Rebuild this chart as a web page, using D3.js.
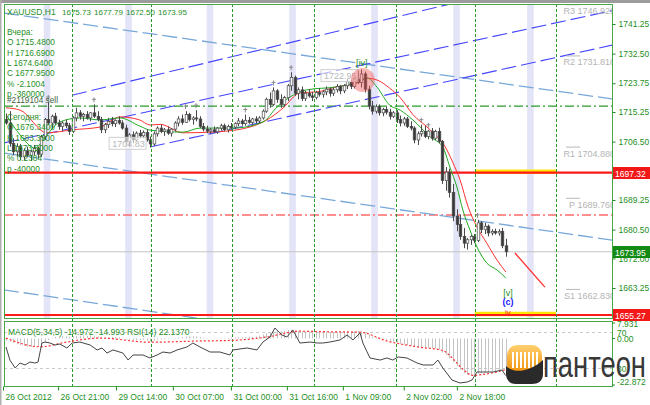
<!DOCTYPE html>
<html><head><meta charset="utf-8">
<script src="https://cdn.jsdelivr.net/npm/d3@7"></script>
<style>body{margin:0;background:#fff}svg{display:block;font-family:"Liberation Sans",Arial,sans-serif}</style>
</head><body><svg id="c" width="650" height="405"></svg>
<script>
// ---------- DATA ----------
const headerSymbol = "XAUUSD,H1";
const headerOHLC = ["1675.73","1677.79","1672.50","1673.95"];
const yesterdayLines = ["Вчера:","O 1715.4800","H 1716.6900","L 1674.6400","C 1677.9500","% -2.1004","p -360000"];
const todayLines = ["Сегодня:","O 1676.3400","H 1683.3500","L 1673.5000","% 0.2384","p -40000"];
const orderLabel = "#2119104 sell";
const orderPrice = 1717.0;

// candles [open, high, low, close], H1 bars
const candles = [
[1713.0,1714.8,1711.5,1712.0],[1712.0,1715.5,1705.0,1706.0],[1706.0,1707.5,1702.5,1703.5],[1703.5,1706.0,1702.0,1705.0],
[1705.0,1705.8,1701.0,1702.0],[1702.0,1704.5,1701.0,1703.8],[1703.8,1705.0,1702.0,1702.5],[1702.5,1704.0,1700.8,1703.5],
[1703.5,1705.5,1702.5,1704.5],[1704.5,1705.0,1701.5,1702.8],[1702.8,1708.5,1702.0,1708.0],[1708.0,1713.5,1707.0,1713.0],
[1713.0,1718.2,1711.5,1712.0],[1712.0,1714.5,1710.5,1714.0],[1714.0,1715.0,1711.5,1712.0],[1712.0,1713.0,1710.0,1711.0],
[1711.0,1712.5,1709.5,1712.0],[1712.0,1713.0,1710.5,1711.2],[1711.2,1712.0,1708.5,1709.5],[1709.5,1714.0,1709.0,1713.5],
[1713.5,1716.5,1712.5,1715.0],[1715.0,1715.8,1713.0,1714.0],[1714.0,1715.0,1712.5,1714.5],[1714.5,1715.5,1713.0,1713.5],
[1713.5,1715.2,1712.5,1715.0],[1715.0,1717.5,1713.5,1714.0],[1714.0,1715.5,1712.5,1713.0],[1713.0,1713.8,1709.0,1710.0],
[1710.0,1712.0,1709.0,1711.5],[1711.5,1713.5,1710.5,1712.5],[1712.5,1713.8,1711.0,1711.8],[1711.8,1713.0,1710.8,1712.8],
[1712.8,1714.0,1711.5,1712.0],[1712.0,1712.8,1710.0,1710.5],[1710.5,1711.5,1705.5,1706.5],[1706.5,1709.0,1705.0,1708.5],
[1708.5,1709.5,1706.0,1707.0],[1707.0,1709.5,1706.5,1709.0],[1709.0,1710.0,1707.5,1708.2],[1708.2,1709.8,1707.5,1709.2],
[1709.2,1710.2,1706.5,1707.0],[1707.0,1708.0,1704.8,1705.8],[1705.8,1709.5,1705.2,1708.8],[1708.8,1711.0,1708.0,1710.5],
[1710.5,1711.5,1709.0,1709.5],[1709.5,1710.5,1708.2,1710.0],[1710.0,1711.0,1708.5,1709.0],[1709.0,1710.5,1708.0,1710.2],
[1710.2,1712.5,1709.5,1712.0],[1712.0,1714.0,1711.0,1713.2],[1713.2,1714.5,1711.5,1712.2],[1712.2,1715.5,1712.0,1714.5],
[1714.5,1715.0,1712.5,1713.0],[1713.0,1714.0,1711.5,1713.5],[1713.5,1715.8,1712.5,1713.2],[1713.2,1714.0,1710.5,1711.0],
[1711.0,1712.0,1709.5,1710.2],[1710.2,1711.2,1709.0,1709.6],[1709.6,1710.5,1708.8,1710.0],[1710.0,1711.0,1709.0,1709.4],
[1709.4,1710.8,1708.8,1710.5],[1710.5,1711.8,1709.8,1711.2],[1711.2,1711.8,1709.6,1710.0],[1710.0,1711.5,1709.2,1711.0],
[1711.0,1712.0,1710.0,1710.8],[1710.8,1712.2,1710.2,1711.8],[1711.8,1713.5,1711.0,1712.6],[1712.6,1713.2,1711.2,1711.8],
[1711.8,1714.5,1711.2,1712.8],[1712.8,1713.8,1711.8,1712.2],[1712.2,1713.5,1711.5,1713.2],[1713.2,1714.0,1712.0,1712.6],
[1712.6,1714.0,1712.0,1713.5],[1713.5,1716.0,1713.0,1715.5],[1715.5,1719.5,1715.0,1719.0],[1719.0,1721.0,1716.5,1717.5],
[1717.5,1722.5,1717.0,1721.5],[1721.5,1722.0,1718.0,1719.0],[1719.0,1720.5,1716.5,1717.5],[1717.5,1720.0,1716.8,1719.5],
[1719.5,1723.5,1718.5,1723.0],[1723.0,1727.0,1721.5,1725.5],[1725.5,1726.0,1720.0,1720.8],[1720.8,1722.5,1719.0,1721.8],
[1721.8,1722.8,1718.5,1719.2],[1719.2,1721.5,1718.5,1720.8],[1720.8,1722.0,1719.5,1720.0],[1720.0,1721.2,1718.5,1719.5],
[1719.5,1721.5,1719.0,1721.0],[1721.0,1722.2,1719.8,1720.5],[1720.5,1721.8,1719.5,1721.2],[1721.2,1722.8,1720.2,1722.0],
[1722.0,1722.5,1719.8,1720.8],[1720.8,1722.5,1720.0,1721.8],[1721.8,1723.5,1721.0,1722.8],[1722.8,1723.2,1720.5,1721.5],
[1721.5,1723.5,1720.8,1723.0],[1723.0,1725.0,1722.0,1724.2],[1724.2,1724.8,1722.0,1722.8],[1722.8,1725.5,1722.2,1725.0],
[1725.0,1727.5,1723.5,1724.0],[1724.0,1727.8,1722.5,1726.5],[1726.5,1727.2,1721.0,1722.0],[1722.0,1723.0,1716.0,1717.0],
[1717.0,1718.5,1714.5,1715.5],[1715.5,1717.5,1714.8,1716.8],[1716.8,1717.5,1714.2,1715.0],[1715.0,1716.5,1714.0,1716.0],
[1716.0,1716.8,1714.5,1715.2],[1715.2,1716.2,1713.0,1714.0],[1714.0,1715.5,1713.5,1715.0],[1715.0,1715.8,1712.0,1713.0],
[1713.0,1714.2,1711.0,1712.0],[1712.0,1713.8,1711.2,1713.2],[1713.2,1713.8,1710.5,1711.0],[1711.0,1712.5,1709.8,1710.5],
[1710.5,1711.0,1706.0,1707.0],[1707.0,1709.5,1705.5,1708.8],[1708.8,1711.5,1708.0,1709.5],[1709.5,1711.2,1707.5,1708.0],
[1708.0,1710.0,1707.2,1709.6],[1709.6,1710.5,1706.8,1707.5],[1707.5,1710.0,1707.0,1709.5],[1709.5,1710.6,1706.0,1706.5],
[1706.5,1707.0,1694.0,1695.0],[1695.0,1699.0,1692.0,1697.5],[1697.5,1698.5,1690.0,1691.5],[1691.5,1694.0,1683.0,1684.5],
[1684.5,1686.5,1680.0,1682.0],[1682.0,1685.0,1677.5,1678.5],[1678.5,1681.0,1675.0,1676.5],[1676.5,1678.0,1674.6,1677.5],
[1677.5,1679.0,1676.0,1678.5],[1678.5,1679.2,1676.5,1677.3],[1677.3,1683.4,1676.8,1682.5],[1682.5,1683.0,1679.5,1680.5],
[1680.5,1682.5,1679.2,1681.5],[1681.5,1682.0,1678.5,1679.5],[1679.5,1680.6,1678.8,1680.0],[1680.0,1680.8,1679.0,1679.5],
[1679.5,1680.6,1678.7,1680.0],[1680.0,1681.0,1675.0,1675.73],[1675.73,1677.79,1672.50,1673.95]
];
const fractalBars = [12,25,51,54,68,76,81,118,120,134];

// moving averages (bar index, price)
const maRedIdx = [0,4,11.6,19,26.7,32.4,38,40.9,43.8,50.3,60,69.3,74.1,78.7,83.5,88.4,94,99.7,102.6,105.4,109,112,115.6,120.5,125.3,127,129,131.3,133.8,136.6,139.5,142];
const maRed    = [1716.5,1715.8,1709.1,1710.0,1710.8,1713.8,1712.9,1711.4,1711.6,1709.1,1709.4,1710.8,1712.9,1716.4,1720.9,1721.2,1722.7,1723.8,1725.2,1724.7,1722.3,1719.5,1714.5,1710.0,1704.0,1700.2,1695.2,1687.2,1681.3,1676.5,1671.5,1668.0];
const maGreenIdx = [0,4,8.2,11.6,15.3,21,26.7,32.4,38,40.9,50.3,55.1,64.5,73,77,80.7,85.5,94,99.7,102.6,105.4,109,112,115.6,120.5,124.1,126.1,128.1,129.8,131.8,133.8,136.6,139.5,142];
const maGreen    = [1714.4,1708.5,1704.6,1708.5,1712.3,1713.5,1712.9,1713.5,1711.1,1709.9,1709.3,1710.5,1710.5,1712.3,1716.7,1719.7,1721.8,1722.7,1724.1,1725.3,1722.6,1717.3,1715.8,1712.9,1707.9,1704.9,1699.0,1693.1,1686.3,1680.4,1675.4,1670.6,1668.6,1666.2];

// axes
const priceTicks = [1741.25,1732.50,1723.75,1715.25,1706.50,1689.25,1680.50,1672.00,1663.25];
const timeLabels = ["26 Oct 2012","26 Oct 21:00","29 Oct 14:00","30 Oct 07:00","31 Oct 00:00","31 Oct 16:00","1 Nov 09:00","2 Nov 02:00","2 Nov 18:00"];
const timeIdx = [-0.85,14.8,31.25,47.4,63.9,79.8,95.7,113,128.1];
const gridIdx = [18.75,41.2,64.2,87.5,110.8,133.2,156.25];
const sessionIdx = [11.65,34.8,57.95,81.4,104.7,128,149];

// horizontal levels
const redLevels = [1697.32,1655.27];
const redLevelLabels = ["1697.32","1655.27"];
const bidPrice = 1673.95;
const redDashLevel = 1684.8;
const pivotNames = ["R3 1746.929","R2 1731.810","R1 1704.880","P 1689.760","S1 1662.830"];
const pivotLevels = [1746.929,1731.810,1704.880,1689.760,1662.830];

// channels: [idx0, price0, idx1, price1]
const blueChannels = [[-0.6,1706.1,172.2,1745.2],[18.75,1720.2,140.3,1750.7],[40.9,1704.9,172.2,1735.0]];
const lightChannels = [[-0.6,1744.5,172.2,1719.1],[-0.6,1703.1,172.2,1677.4],[-0.6,1662.7,172.2,1636.4]];
const projection = [144.6,1673.6,153.1,1663.5];

// wave marks
const waveMarks = [
  {t:"[iv]", i:101.1, p:1729.7, c:"#1f8f1f", fs:9},
  {t:"[v]", i:142.6, p:1661.9, c:"#1f8f1f", fs:9},
  {t:"(c)", i:142.6, p:1659.0, c:"#2020ff", fs:9},
  {t:"iv", i:142.6, p:1656.1, c:"#ff2020", fs:8}
];
const peakCircle = {i:101.4, p:1724.7};
const priceTags = [{t:"1704.83", i:29.3, p:1706.0},{t:"1722.95", i:89.5, p:1726.0}];

// indicator window
const macdTitle = "MACD(5,34,5) -14.972 -14.993  RSI(14) 22.1370";
const macdHist = [-1.0,-1.5,-2.2,-2.8,-3.2,-3.6,-3.9,-4.1,-4.2,-4.0,-3.2,-2.0,-0.8,0.2,
0.8,1.0,1.1,1.0,0.9,1.1,1.3,1.4,1.4,1.3,1.4,1.3,1.0,0.7,0.6,0.6,0.7,
0.7,0.6,0.3,-0.5,-0.8,-0.9,-0.8,-0.7,-0.8,-1.0,-1.3,-1.0,-0.6,-0.5,-0.4,-0.3,-0.1,
0.2,0.5,0.7,0.9,1.0,1.1,1.0,0.7,0.4,0.2,0.0,-0.1,0.0,0.1,0.2,0.3,0.4,0.5,0.6,0.6,0.7,0.8,0.8,
1.0,1.4,2.0,2.6,3.0,3.4,3.5,3.4,3.6,4.0,4.2,3.8,3.6,3.5,3.4,3.3,3.2,3.3,3.3,3.2,3.3,3.2,3.1,3.2,3.3,3.2,3.4,3.4,3.5,3.7,3.5,2.6,
1.8,1.0,0.6,0.2,-0.2,-0.6,-1.1,-1.6,-2.1,-2.6,-3.0,-3.3,-3.6,-4.2,-4.4,-4.4,-4.6,-4.5,-4.7,-4.8,-5.3,
-6.8,-8.0,-9.6,-11.5,-13.4,-15.2,-16.8,-17.5,-17.8,-17.9,-17.0,-16.6,-16.3,-16.1,-15.8,-15.6,-15.4,-15.2,-14.97];
const sigIdx = [0,9.7,17.3,26.7,40.9,55.1,64.5,74.1,83.5,89.2,100.6,108.2,117.6,124.1,127,129.8,132.7,135.5,139.5,142];
const sigVal = [0.2,-4.0,-1.7,0.2,-1.8,-1.2,-0.9,0.7,3.5,3.3,3.0,-1.2,-4.2,-5.8,-9.8,-14.8,-17.8,-17.3,-16.1,-14.99];
const rsiIdx = [0,1.1,2.6,4,5.4,6.8,8.2,9.1,10.2,11.1,12.5,13.9,15.3,17.3,18.8,21,23.9,25.9,27.3,28.7,30.4,33.2,34.7,36.1,38.9,40.9,42.9,44.6,46.6,48.6,51.4,53.1,55.1,58,60.8,63.6,64.5,68.5,71.3,73,75,76.4,78.4,79.8,81.5,83.5,86.4,88.4,90,92,94.9,96.9,98.6,100.6,101.4,103.4,106.3,108.2,109.9,111.4,113.9,116.8,118.5,121.3,122.7,124.1,126.7,129,131,132.4,133.8,135.5,138.4,140.9,142];
const rsiVal = [53.9,39.4,30.6,36.1,33.9,37.2,36.1,37.2,58.3,59.4,58.3,56.1,57.2,52.8,58.3,59.4,56.1,50.6,52.8,47.2,50.6,47.2,39.4,45,45,41.7,45,48.3,47.2,50.6,53.9,58.3,53.9,48.3,48.3,45,50.6,52.8,50.6,59.4,65,75,67.2,65,72.8,58.3,59.4,58.3,58.3,59.4,61.7,67.2,61.7,69.4,58.3,41.7,39.4,41.7,39.4,42.8,41.7,36.1,33.9,33.9,39.4,30.6,17.2,13.9,15,17.2,26.1,26.1,26.1,28.3,22.14];
const macdMax = 7.931, macdMin = -22.872;
const rsiLevels = [70,30];

// ---------- DRAW ----------
const svg = d3.select("#c");
const GREEN = "#1f8f1f", FRAME = "#45a845";
const M = {l:4, r:612, t:4, b:318};
const S = {t:321, b:386};

const x = d3.scaleLinear().domain([0,142]).range([6,505.8]);
const y = d3.scaleLinear().domain([1741.25,1663.25]).range([24,288]);
const ym = d3.scaleLinear().domain([macdMax,macdMin]).range([S.t+1,S.b]);
const yr = d3.scaleLinear().domain([70,30]).range([332.5,368.5]);

svg.append("rect").attr("width",650).attr("height",405).attr("fill","#fff");
svg.append("rect").attr("width",650).attr("height",3).attr("fill","#9c9c9c");
svg.append("rect").attr("width",1.5).attr("height",405).attr("fill","#b0b0b0");

const defs = svg.append("defs");
defs.append("clipPath").attr("id","cm").append("rect").attr("x",M.l).attr("y",M.t).attr("width",M.r-M.l).attr("height",M.b-M.t);
defs.append("clipPath").attr("id","cs").append("rect").attr("x",M.l).attr("y",S.t).attr("width",M.r-M.l).attr("height",S.b-S.t);

const main = svg.append("g").attr("clip-path","url(#cm)");

// session bands
main.selectAll(".band").data(sessionIdx).join("rect")
  .attr("x",d=>x(d)-3.3).attr("y",M.t).attr("width",6.6).attr("height",M.b-M.t)
  .attr("fill","#e4e4f8");

// grid verticals (both windows)
svg.append("g").selectAll("line").data(gridIdx).join("line")
  .attr("x1",d=>Math.round(x(d))+0.5).attr("x2",d=>Math.round(x(d))+0.5)
  .attr("y1",M.t).attr("y2",S.b)
  .attr("stroke","#2a9a2a").attr("stroke-width",1).attr("stroke-dasharray","3,2");

// horizontal levels
const hline = (p,col,w,dash)=>main.append("line").attr("x1",M.l).attr("x2",M.r)
  .attr("y1",y(p)).attr("y2",y(p)).attr("stroke",col).attr("stroke-width",w).attr("stroke-dasharray",dash||null);
hline(bidPrice,"#c4c4c4",1);
hline(redDashLevel,"#ff6a6a",1.6,"9,3,2,3");
hline(orderPrice,"#2a9a2a",1.2,"9,3,2,3");

// channels
const seg = (c)=>[[x(c[0]),y(c[1])],[x(c[2]),y(c[3])]];
main.selectAll(".lc").data(lightChannels).join("path")
  .attr("d",d=>d3.line()(seg(d))).attr("stroke","#78a8da").attr("stroke-width",1.3)
  .attr("fill","none").attr("stroke-dasharray","15,5");
main.selectAll(".bc").data(blueChannels).join("path")
  .attr("d",d=>d3.line()(seg(d))).attr("stroke","#4646ff").attr("stroke-width",1.15)
  .attr("fill","none").attr("stroke-dasharray","15,5");

// yellow + red solid levels
redLevels.forEach(p=>{
  main.append("line").attr("x1",x(gridIdx[5])).attr("x2",x(gridIdx[6]))
    .attr("y1",y(p)-1).attr("y2",y(p)-1).attr("stroke","#ffe600").attr("stroke-width",4.5);
  hline(p,"#ff1a1a",2.2);
});

// pivot labels
pivotLevels.forEach((p,k)=>{
  main.append("line").attr("x1",566).attr("x2",580).attr("y1",y(p)).attr("y2",y(p))
    .attr("stroke","#b8b8b8").attr("stroke-width",1);
  main.append("text").attr("x",615).attr("y",y(p)+9.5).attr("text-anchor","end")
    .attr("font-size",9).attr("fill","#b4b4b4").text(pivotNames[k]);
});

// moving averages
const maLine = (idx,val)=>d3.line().curve(d3.curveMonotoneX)(idx.map((d,k)=>[x(d),y(val[k])]));
main.append("path").attr("d",maLine(maRedIdx,maRed)).attr("stroke","#ff3030").attr("stroke-width",1).attr("fill","none");
main.append("path").attr("d",maLine(maGreenIdx,maGreen)).attr("stroke","#1faa1f").attr("stroke-width",1).attr("fill","none");

// candles
const cg = main.append("g");
candles.forEach((c,i)=>{
  const cx = Math.round(x(i))+0.5;
  cg.append("line").attr("x1",cx).attr("x2",cx).attr("y1",y(c[1])).attr("y2",y(c[2]))
    .attr("stroke","#4a4a4a").attr("stroke-width",1);
  const top = y(Math.max(c[0],c[3])), bot = y(Math.min(c[0],c[3]));
  cg.append("rect").attr("x",cx-1.3).attr("y",top).attr("width",2.6).attr("height",Math.max(1,bot-top))
    .attr("fill",c[3]>=c[0]?"#ffffff":"#383838").attr("stroke","#4a4a4a").attr("stroke-width",0.7);
});

// fractal markers
fractalBars.forEach(i=>{
  const cx = x(i), cy = y(candles[i][1])-4;
  main.append("path").attr("d",`M${cx},${cy+2}V${cy-3}M${cx-2},${cy-1}H${cx+2}`)
    .attr("stroke","#8a8a8a").attr("stroke-width",1).attr("fill","none");
});

// price tags
priceTags.forEach(t=>{
  const g = main.append("g");
  g.append("rect").attr("x",x(t.i)).attr("y",y(t.p)-6).attr("width",37).attr("height",12)
    .attr("fill","#fff").attr("fill-opacity",0.6).attr("stroke","#cfcfcf");
  g.append("text").attr("x",x(t.i)+3).attr("y",y(t.p)+3.5).attr("font-size",9).attr("fill","#b8b8b8").text(t.t);
});

// peak circle
main.append("circle").attr("cx",x(peakCircle.i)).attr("cy",y(peakCircle.p)).attr("r",12)
  .attr("fill","#f05050").attr("fill-opacity",0.42);

// projection
main.append("path").attr("d",d3.line()(seg(projection))).attr("stroke","#ff2a2a").attr("stroke-width",1.3);

// wave marks
waveMarks.forEach(w=>{
  main.append("text").attr("x",x(w.i)).attr("y",y(w.p)+3).attr("text-anchor","middle")
    .attr("font-size",w.fs).attr("font-weight",w.t==="(c)"?"bold":"normal").attr("fill",w.c).text(w.t);
});

// header and comments
const txt = (g,xx,yy,s,col,fs)=>g.append("text").attr("x",xx).attr("y",yy).attr("font-size",fs||8.3)
  .attr("fill",col||GREEN).text(s);
txt(main,7,15,headerSymbol,GREEN,8.5);
headerOHLC.forEach((s,k)=>txt(main,62+k*32,15,s,GREEN,8));
yesterdayLines.forEach((s,k)=>txt(main,7,35+k*10.35,s));
txt(main,7,103,orderLabel,"#3d5f3d");
todayLines.forEach((s,k)=>txt(main,7,120+k*10.35,s));

// main frame
svg.append("rect").attr("x",M.l+0.5).attr("y",M.t+0.5).attr("width",M.r-M.l).attr("height",M.b-M.t)
  .attr("fill","none").attr("stroke",FRAME);

// right price axis
const ax = svg.append("g").attr("transform",`translate(${M.r+0.5},0)`)
  .call(d3.axisRight(y).tickValues(priceTicks).tickSize(3).tickFormat(d3.format(".2f")));
ax.select(".domain").remove();
ax.selectAll("line").attr("stroke",GREEN);
ax.selectAll("text").attr("fill",GREEN).attr("font-size",8.5).attr("font-family","Liberation Sans, Arial, sans-serif").attr("x",6);

// level tags
const tag = (p,s,bg)=>{
  svg.append("rect").attr("x",613).attr("y",Math.round(y(p))-6).attr("width",37).attr("height",12).attr("fill",bg);
  svg.append("text").attr("x",615).attr("y",Math.round(y(p))+3.5).attr("font-size",8.5).attr("fill","#fff").text(s);
};
redLevels.forEach((p,k)=>tag(p,redLevelLabels[k],"#f21818"));
tag(bidPrice,headerOHLC[3],"#138a13");

// ---------- indicator window ----------
const sub = svg.append("g").attr("clip-path","url(#cs)");
rsiLevels.forEach(l=>sub.append("line").attr("x1",M.l).attr("x2",M.r).attr("y1",yr(l)).attr("y2",yr(l))
  .attr("stroke","#c8c8c8").attr("stroke-dasharray","3,3"));
sub.selectAll(".h").data(macdHist).join("line")
  .attr("x1",(d,i)=>Math.round(x(i))+0.5).attr("x2",(d,i)=>Math.round(x(i))+0.5)
  .attr("y1",ym(0)).attr("y2",d=>ym(d)).attr("stroke","#c4c4c4").attr("stroke-width",1);
sub.append("path").attr("d",d3.line().curve(d3.curveMonotoneX)(sigIdx.map((d,k)=>[x(d),ym(sigVal[k])])))
  .attr("stroke","#ff3030").attr("stroke-width",1.2).attr("fill","none").attr("stroke-dasharray","2,2");
sub.append("path").attr("d",d3.line()(rsiIdx.map((d,k)=>[x(d),yr(rsiVal[k])])))
  .attr("stroke","#444").attr("stroke-width",1).attr("fill","none");
txt(sub,8,335,macdTitle,GREEN,8.5);

svg.append("rect").attr("x",M.l+0.5).attr("y",S.t+0.5).attr("width",M.r-M.l).attr("height",S.b-S.t)
  .attr("fill","none").attr("stroke",FRAME);

// indicator right labels
const subLab = [[macdMax.toFixed(3),ym(macdMax)+5],["70",yr(70)+3],["0.00",ym(0)+4],["30",yr(30)+3],[macdMin.toFixed(3),ym(macdMin)-1]];
subLab.forEach(s=>txt(svg,617,s[1],s[0],GREEN,8.5));
[ym(macdMax)+1,ym(0),ym(macdMin)-1].forEach(v=>svg.append("line").attr("x1",612).attr("x2",615).attr("y1",v).attr("y2",v).attr("stroke",GREEN));

// time axis
const tx = svg.append("g").attr("transform",`translate(0,${S.b+0.5})`)
  .call(d3.axisBottom(x).tickValues(timeIdx).tickSize(4).tickFormat((d,i)=>timeLabels[i]));
tx.select(".domain").remove();
tx.selectAll("line").attr("stroke",GREEN);
tx.selectAll("text").attr("fill",GREEN).attr("font-size",8.5).attr("text-anchor","start").attr("dx",2)
  .attr("font-family","Liberation Sans, Arial, sans-serif");

// ---------- logo ----------
const lg = svg.append("g");
const grad = defs.append("linearGradient").attr("id","og").attr("x1",0).attr("y1",0).attr("x2",0).attr("y2",1);
grad.append("stop").attr("offset","0").attr("stop-color","#ffd070");
grad.append("stop").attr("offset","1").attr("stop-color","#f08c00");
lg.append("rect").attr("x",507).attr("y",345).attr("width",35).attr("height",30).attr("rx",10).attr("fill","url(#og)");
d3.range(7).forEach(k=>lg.append("rect").attr("x",512+k*4).attr("y",352).attr("width",2).attr("height",16).attr("fill","#fff"));
lg.append("path").attr("d","M506,366 C514,374 530,372 543,360 L543,374 C543,381 538,384 532,384 L516,384 C510,384 506,380 506,374 Z").attr("fill","#2a2a2a");
lg.append("text").attr("transform","translate(543,377) scale(1,1.33)").attr("font-size",27.5).attr("fill","#383838")
  .attr("textLength",103).attr("lengthAdjust","spacingAndGlyphs").text("пантеон");
</script></body></html>
